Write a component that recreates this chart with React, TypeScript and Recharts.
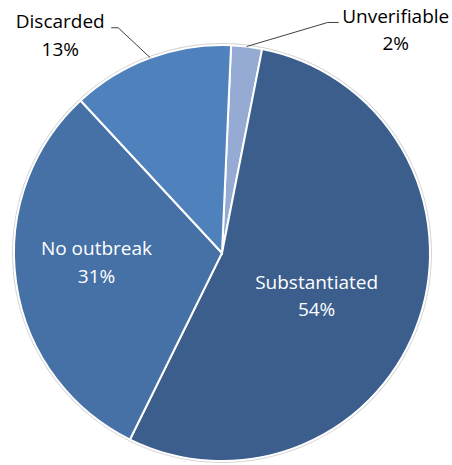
import { PieChart, Pie, Cell } from 'recharts';

const categories = ['Unverifiable', 'Substantiated', 'No outbreak', 'Discarded'];
const shares = [2.4, 54.2, 30.8, 12.6];
const colors = ['#95abd3', '#3b5e8c', '#4571a7', '#4f81bd'];

const data = categories.map((name, i) => ({ name, value: shares[i] }));

const RADIAN = Math.PI / 180;
const FONT = '"Open Sans", sans-serif';
const FS = 19;

const renderLabel = (props: any) => {
  const { cx, cy, midAngle, outerRadius, percent, index, name } = props;
  const pct = `${Math.round(percent * 100)}%`;
  const cos = Math.cos(-midAngle * RADIAN);
  const sin = Math.sin(-midAngle * RADIAN);

  // inside labels, white
  if (index === 1 || index === 2) {
    const r = index === 1 ? outerRadius * 0.47 : outerRadius * 0.6;
    const x = cx + r * cos + (index === 1 ? 2 : -2);
    const y = cy + r * sin + (index === 1 ? 9 : -11);
    return (
      <text x={x} y={y} fill="#ffffff" textAnchor="middle" fontFamily={FONT} fontSize={FS}>
        <tspan x={x} dy="-0.25em">{name}</tspan>
        <tspan x={x} dy="1.45em">{pct}</tspan>
      </text>
    );
  }

  // outside labels with leader lines
  const sx = cx + outerRadius * cos;
  const sy = cy + outerRadius * sin;
  const right = index === 0;
  const ex = right ? sx + 81 : sx - 32;
  const ey = right ? sy - 24 : sy - 30;
  const hx = right ? ex + 11 : ex - 7;
  const tx = right ? hx + 57 : hx - 51;
  return (
    <g>
      <polyline
        points={`${sx},${sy} ${ex},${ey} ${hx},${ey}`}
        fill="none"
        stroke="#404040"
        strokeWidth={1}
      />
      <text x={tx} y={ey} fill="#000000" textAnchor="middle" fontFamily={FONT} fontSize={FS}>
        <tspan x={tx} dy="0.02em">{name}</tspan>
        <tspan x={tx} dy="1.45em">{pct}</tspan>
      </text>
    </g>
  );
};

export default function App() {
  return (
    <div style={{ position: 'absolute', left: 0, top: 0, background: '#ffffff' }}>
      <PieChart width={452} height={465} margin={{ top: 0, right: 0, bottom: 0, left: 0 }}>
        <Pie
          data={[{ value: 1 }]}
          dataKey="value"
          cx={222}
          cy={253}
          outerRadius={210}
          fill="#d4d4d4"
          stroke="none"
          isAnimationActive={false}
        />
        <Pie
          data={data}
          dataKey="value"
          nameKey="name"
          cx={222}
          cy={253}
          outerRadius={208}
          startAngle={87.5}
          endAngle={-272.5}
          stroke="#ffffff"
          strokeWidth={2}
          label={renderLabel}
          labelLine={false}
          isAnimationActive={false}
        >
          {data.map((d, i) => (
            <Cell key={d.name} fill={colors[i]} />
          ))}
        </Pie>
      </PieChart>
    </div>
  );
}
